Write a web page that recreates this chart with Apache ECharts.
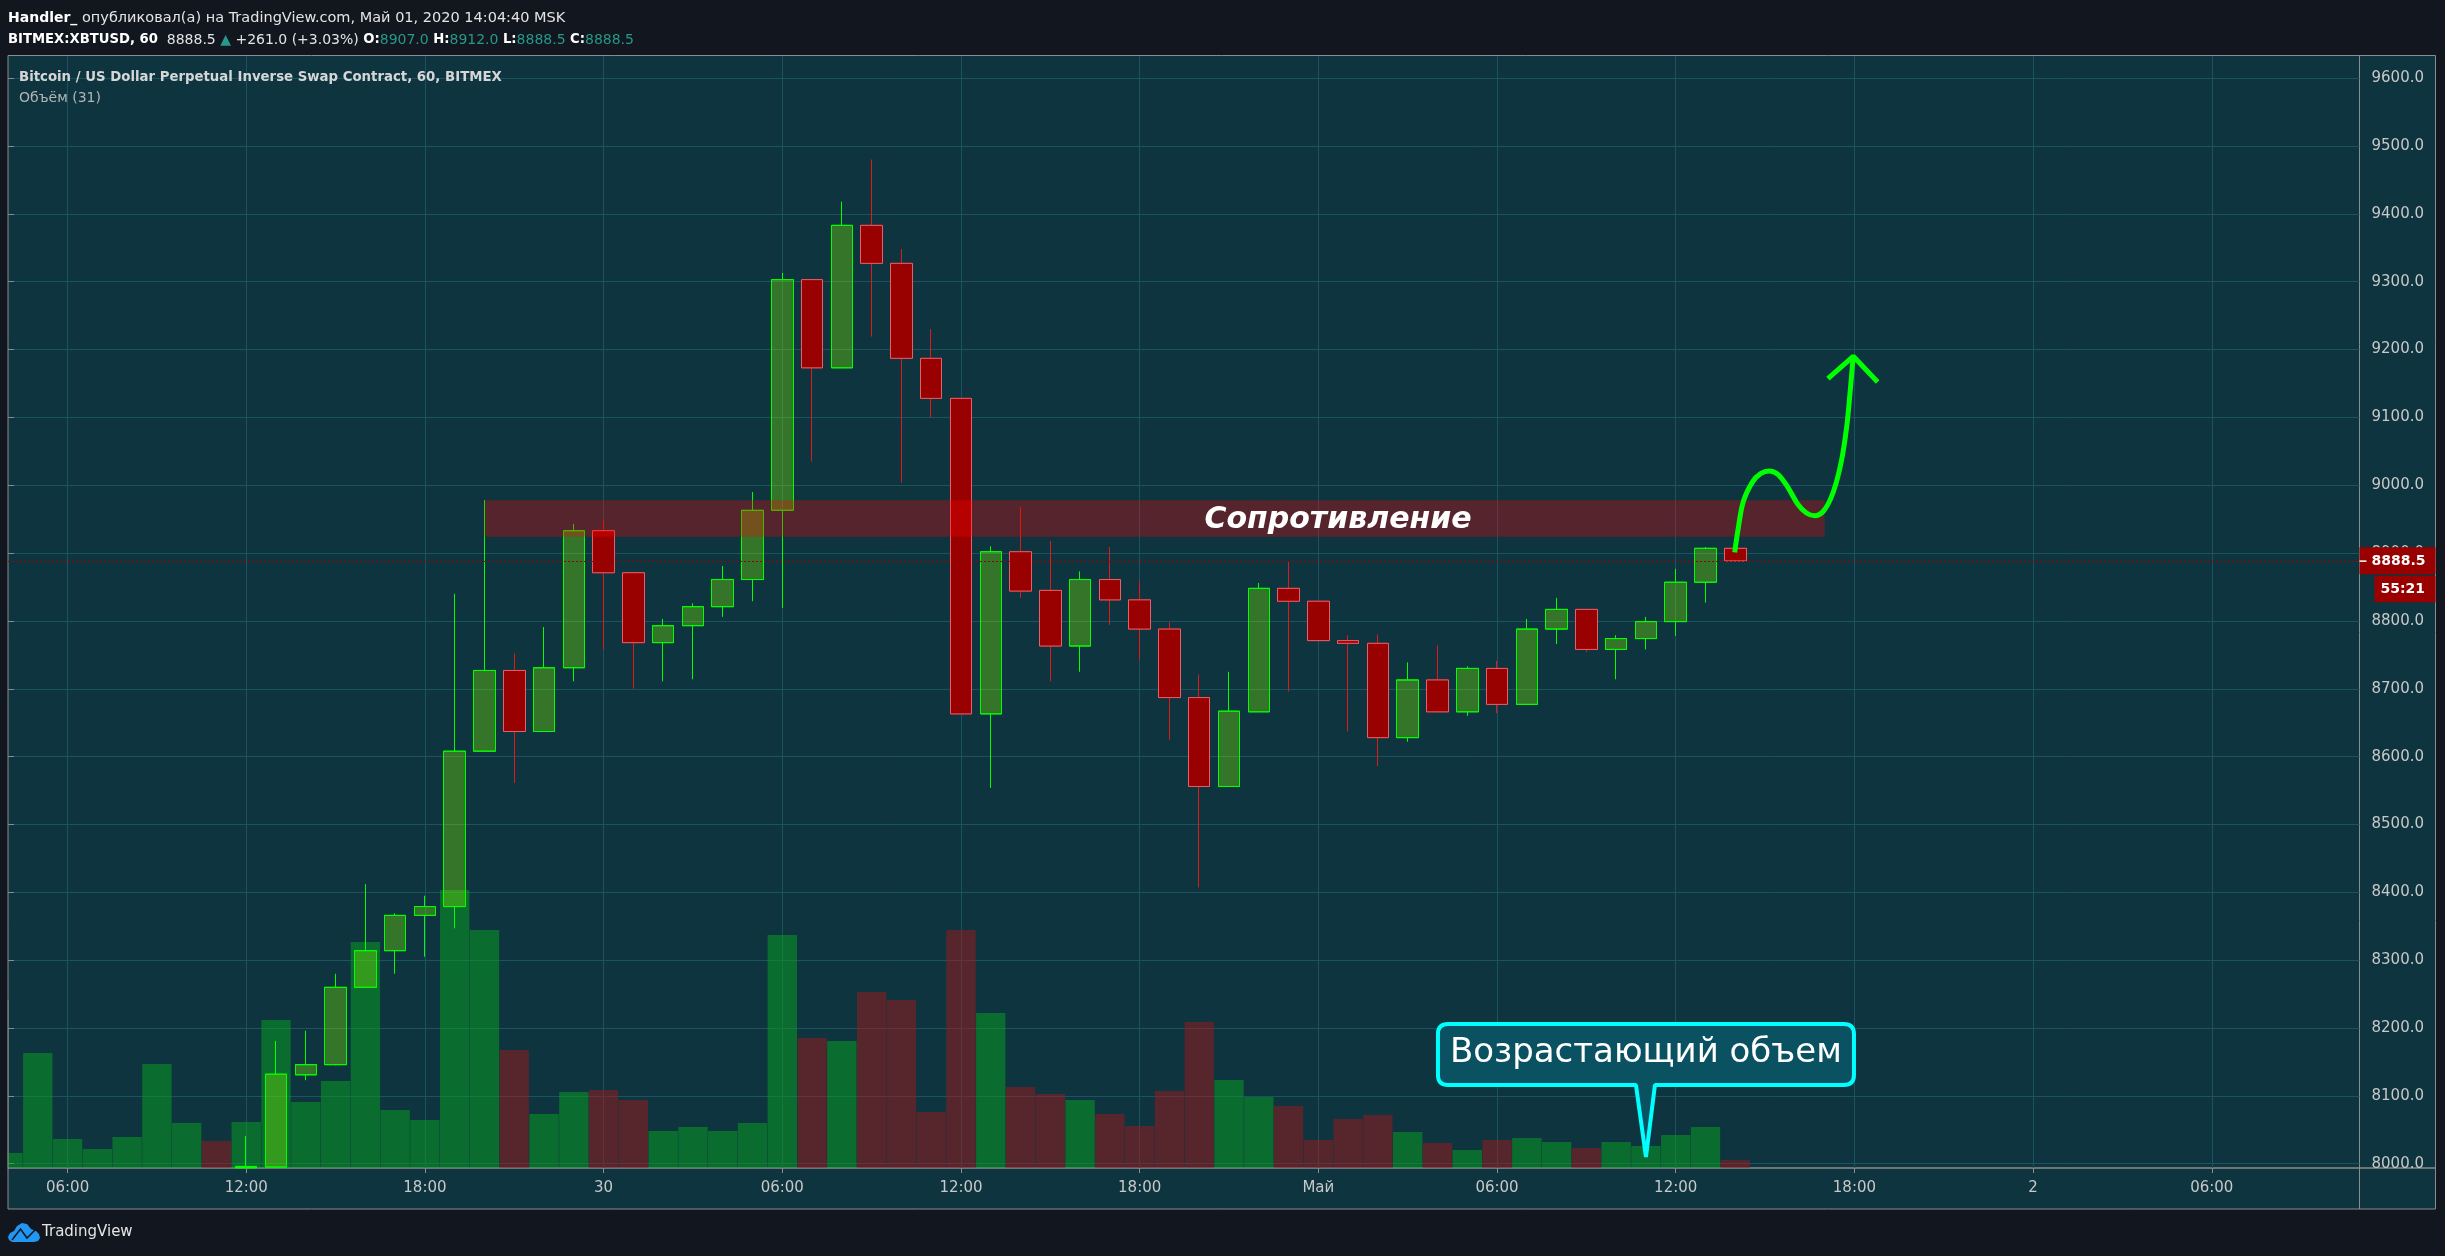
<!DOCTYPE html>
<html>
<head>
<meta charset="utf-8">
<script src="https://cdn.jsdelivr.net/npm/echarts@6/dist/echarts.min.js"></script>
<style>
	html,body{margin:0;padding:0;background:#12161f;}
	#chart{width:2445px;height:1256px;}
</style>
</head>
<body>
<div id="chart"></div>
<script>
// hours counted from the 04:00 bar
var tickHours=[2,8,14,20,26,32,38,44,50,56,62,68,74];
var tickLabels=["06:00","12:00","18:00","30","06:00","12:00","18:00","Май","06:00","12:00","18:00","2","06:00"];
var priceTicks=[8000,8100,8200,8300,8400,8500,8600,8700,8800,8900,9000,9100,9200,9300,9400,9500,9600];

// volume, first bar is hour 0
var volumes=[15,115,29,19,31,104,45,27,46,148,66,87,226,58,48,278,238,118,54,76,78,68,37,41,37,45,233,130,127,176,168,56,238,155,81,74,68,54,42,77,146,88,71,62,28,49,53,36,25,18,28,30,26,20,26,22,33,41,8];
var volumeUp=[1,1,1,1,1,1,1,0,1,1,1,1,1,1,1,1,1,0,1,1,0,0,1,1,1,1,1,0,1,0,0,0,0,1,0,0,1,0,0,0,0,1,1,0,0,0,0,1,0,1,0,1,1,0,1,1,1,1,0];

// candles, first candle is hour 8
var firstCandle=8;
var opens=[7994,7995,8131,8146,8260,8314,8366,8379,8608,8727,8637,8731,8933,8871,8768,8793,8821,8861,8963,9303,9173,9383,9327,9187,9128,8663,8902,8845,8763,8861,8831,8788,8687,8556,8666,8848,8829,8771,8767,8628,8713,8666,8730,8677,8788,8817,8758,8774,8799,8857,8907];
var closes=[7996,8132,8146,8260,8314,8366,8379,8608,8727,8637,8731,8933,8871,8768,8793,8821,8861,8963,9303,9173,9383,9327,9187,9128,8663,8902,8844,8763,8861,8831,8788,8687,8556,8667,8848,8829,8771,8767,8628,8713,8666,8730,8677,8788,8817,8758,8774,8799,8857,8907,8888.5];
var highs=[8041,8181,8196,8280,8412,8369,8395,8840,8978,8752,8791,8943,8949,8871,8803,8826,8881,8990,9313,9303,9418,9480,9348,9230,9128,8910,8968,8918,8873,8909,8859,8798,8721,8725,8856,8887,8829,8779,8780,8739,8764,8733,8741,8803,8834,8817,8779,8806,8877,8909,8912];
var lows=[7994,7995,8123,8145,8260,8280,8305,8347,8608,8561,8637,8711,8758,8700,8711,8714,8806,8829,8819,9035,9173,9219,9004,9100,8663,8554,8834,8711,8725,8794,8743,8625,8407,8556,8666,8696,8771,8637,8586,8622,8666,8660,8664,8677,8766,8754,8714,8758,8778,8827,8888.5];

var lastPrice=8888.5;
var countdown="55:21";

// hand drawn forecast, [hour, price]
var arrowCurve=[[57.98,8901],[58.09,8934],[58.27,8976],[58.58,9005],[58.85,9017],[59.14,9021],[59.43,9016],[59.75,8998],[60.1,8972],[60.39,8959],[60.66,8955],[60.98,8963],[61.29,8990],[61.56,9035],[61.74,9086],[61.85,9135],[61.96,9190]];
var arrowHead=[[61.11,9157],[61.96,9190],[62.78,9152]];

var zoneHours=[16,61];
var zonePrices=[8924,8978];
var zoneText="Сопротивление";
var calloutTip=[55,8010];
var calloutText="Возрастающий объем";

var FONT="DejaVu Sans";
var candleData=[],bodyData=[],volumeData=[];
for(var i=0;i<opens.length;i++){
	candleData.push([firstCandle+i,opens[i],closes[i],lows[i],highs[i]]);
	bodyData.push([firstCandle+i,opens[i],closes[i],Math.min(opens[i],closes[i]),Math.max(opens[i],closes[i])]);
}
for(var i=0;i<volumes.length;i++){
	volumeData.push([i,volumes[i]]);
}

function renderNotes(params,api){
	var a=api.coord([zoneHours[0],zonePrices[1]]);
	var b=api.coord([zoneHours[1],zonePrices[0]]);
	var tip=api.coord(calloutTip);
	var py=api.coord([0,lastPrice])[1];
	var right=params.coordSys.x+params.coordSys.width;
	// callout box, offsets from the tip
	var l=tip[0]-208,r=tip[0]+208,t=tip[1]-133,bt=tip[1]-72,rad=10;
	var callout="M"+(l+rad)+" "+t+"L"+(r-rad)+" "+t+"Q"+r+" "+t+" "+r+" "+(t+rad)+"L"+r+" "+(bt-rad)+"Q"+r+" "+bt+" "+(r-rad)+" "+bt
		+"L"+(tip[0]+9)+" "+bt+"L"+tip[0]+" "+tip[1]+"L"+(tip[0]-10)+" "+bt
		+"L"+(l+rad)+" "+bt+"Q"+l+" "+bt+" "+l+" "+(bt-rad)+"L"+l+" "+(t+rad)+"Q"+l+" "+t+" "+(l+rad)+" "+t+"Z";
	return {type:"group",children:[
		{type:"rect",shape:{x:a[0],y:a[1],width:b[0]-a[0],height:b[1]-a[1]},style:{fill:"rgba(255,0,0,0.3)"}},
		{type:"text",style:{text:zoneText,x:1338,y:(a[1]+b[1])/2+1.5,align:"center",verticalAlign:"middle",fill:"#ffffff",font:"italic bold 30px '"+FONT+"'"}},
		{type:"path",shape:{pathData:callout},style:{fill:"#0a5262",stroke:"#00ffff",lineWidth:4,lineJoin:"bevel"}},
		{type:"text",style:{text:calloutText,x:tip[0],y:tip[1]-103.5,align:"center",verticalAlign:"middle",fill:"#ffffff",font:"34px '"+FONT+"'"}},
		{type:"rect",shape:{x:right,y:py-13.5,width:76,height:27},style:{fill:"#990000"}},
		{type:"rect",shape:{x:right,y:py-0.5,width:7,height:1.5},style:{fill:"#ffffff"}},
		{type:"text",style:{text:lastPrice.toFixed(1),x:right+12,y:py,align:"left",verticalAlign:"middle",fill:"#ffffff",font:"bold 14px '"+FONT+"'"}},
		{type:"rect",shape:{x:right+15,y:py+15,width:61,height:26.5},style:{fill:"#990000"}},
		{type:"text",style:{text:countdown,x:right+21,y:py+28,align:"left",verticalAlign:"middle",fill:"#ffffff",font:"bold 14px '"+FONT+"'"}}
	]};
}

var myChart=echarts.init(document.getElementById("chart"),null,{renderer:"canvas"});
var option={
	animation:false,
	backgroundColor:"#12161f",
	textStyle:{fontFamily:FONT},
	title:[
		{left:8,top:11,padding:0,text:"{b|Handler_} опубликовал(а) на TradingView.com, Май 01, 2020 14:04:40 MSK",
			textStyle:{color:"#e4e4e4",fontSize:14.5,fontWeight:"normal",fontFamily:FONT,rich:{b:{color:"#ffffff",fontSize:14,fontWeight:"bold",fontFamily:FONT}}}},
		{left:8,top:33,padding:0,text:"{b|BITMEX:XBTUSD, 60}  8888.5 {g|▲} +261.0 (+3.03%) {b|O:}{g|8907.0} {b|H:}{g|8912.0} {b|L:}{g|8888.5} {b|C:}{g|8888.5}",
			textStyle:{color:"#e4e4e4",fontSize:14,fontWeight:"normal",fontFamily:FONT,rich:{b:{color:"#ffffff",fontSize:13.2,fontWeight:"bold",fontFamily:FONT},g:{color:"#26998a",fontSize:14,fontFamily:FONT}}}},
		{left:19,top:71,padding:0,text:"Bitcoin / US Dollar Perpetual Inverse Swap Contract, 60, BITMEX",
			textStyle:{color:"#d6d6d6",fontSize:13.3,fontWeight:"bold",fontFamily:FONT}},
		{left:19,top:91,padding:0,text:"Объём (31)",
			textStyle:{color:"#b4b4b4",fontSize:14,fontWeight:"normal",fontFamily:FONT}},
		{left:42,top:1225,padding:0,text:"TradingView",
			textStyle:{color:"#e4e4e4",fontSize:15,fontWeight:"normal",fontFamily:FONT}}
	],
	graphic:[
		{type:"rect",z:-10,silent:true,shape:{x:8,y:55.5,width:2427.5,height:1153.5},style:{fill:"#0d343f",stroke:"#8c8c8c",lineWidth:1}},
		{type:"line",z:-9,silent:true,shape:{x1:8,y1:1168,x2:2435,y2:1168},style:{stroke:"#8c8c8c",lineWidth:1.5}},
		{type:"line",z:-9,silent:true,shape:{x1:2359.5,y1:56,x2:2359.5,y2:1209},style:{stroke:"#8c8c8c",lineWidth:1}},
		// the first bar hangs over the left edge, bars are not clipped on a value axis
		{type:"rect",z:10,silent:true,shape:{x:0,y:1000,width:7.5,height:169},style:{fill:"#12161f"}},
		{type:"line",z:10,silent:true,shape:{x1:8,y1:1000,x2:8,y2:1169},style:{stroke:"#8c8c8c",lineWidth:1}},
		{type:"polygon",silent:true,shape:{points:[[8,1237],[10,1233],[14,1231],[17,1226],[22,1223],[27,1224],[31,1229],[36,1231],[39,1234],[40,1238],[38,1241],[34,1242],[12,1242],[9,1240]]},style:{fill:"#2196f3"}},
		{type:"polyline",silent:true,shape:{points:[[12,1240],[20.5,1229],[27,1238],[35,1230]]},style:{stroke:"#12161f",fill:"none",lineWidth:1.5}}
	],
	grid:{left:8,right:85.5,top:56,bottom:88,containLabel:false},
	xAxis:{
		type:"value",min:0,max:78.96,
		axisLine:{show:false},
		axisTick:{show:true,length:5,lineStyle:{color:"#8c8c8c"},customValues:tickHours},
		axisLabel:{color:"#c8c8c8",fontSize:15,margin:13,fontFamily:FONT,customValues:tickHours,formatter:function(v){return tickLabels[tickHours.indexOf(v)];}},
		splitLine:{show:true,lineStyle:{color:"#1b5361",width:1}}
	},
	yAxis:[
		{
			type:"value",position:"right",min:7993.7,max:9632.6,
			axisLine:{show:false},
			axisTick:{show:true,length:6,lineStyle:{color:"#8c8c8c"},customValues:priceTicks},
			axisLabel:{color:"#c8c8c8",fontSize:15,margin:12,padding:[2,0,0,0],fontFamily:FONT,customValues:priceTicks,formatter:function(v){return v.toFixed(1);}},
			splitLine:{show:true,lineStyle:{color:"#1b5361",width:1}}
		},
		{type:"value",show:false,min:0,max:1112,splitLine:{show:false}}
	],
	series:[
		{
			name:"Объём",type:"bar",yAxisIndex:1,z:1,barWidth:29.4,clip:true,
			data:volumeData,
			itemStyle:{color:function(p){return volumeUp[p.dataIndex]?"rgba(7,164,29,0.5)":"rgba(161,22,25,0.5)";}}
		},
		{
			// wicks only, the bodies go on top
			name:"wicks",type:"candlestick",z:2,barWidth:22,
			data:candleData,
			itemStyle:{color:"transparent",color0:"transparent",borderColor:"#00ff00",borderColor0:"#e01818",borderWidth:1}
		},
		{
			name:"XBTUSD",type:"candlestick",z:2,barWidth:22,
			data:bodyData,
			itemStyle:{color:"rgba(130,240,0,0.35)",color0:"#990000",borderColor:"#00ff00",borderColor0:"#e4606a",borderWidth:1},
			markLine:{
				silent:true,symbol:"none",animation:false,
				data:[{yAxis:lastPrice}],
				label:{show:false},
				lineStyle:{color:"#8f0808",type:[2,2],width:1}
			}
		},
		{
			name:"notes",type:"custom",z:3,silent:true,
			encode:{x:0,y:1},
			data:[[0,8000]],
			renderItem:renderNotes
		},
		{
			name:"forecast",type:"line",z:4,silent:true,smooth:0.35,showSymbol:false,symbol:"none",
			data:arrowCurve,
			lineStyle:{color:"#00ff00",width:5}
		},
		{
			name:"forecast head",type:"line",z:4,silent:true,showSymbol:false,symbol:"none",
			data:arrowHead,
			lineStyle:{color:"#00ff00",width:5}
		}
	]
};
myChart.setOption(option);
</script>
</body>
</html>
